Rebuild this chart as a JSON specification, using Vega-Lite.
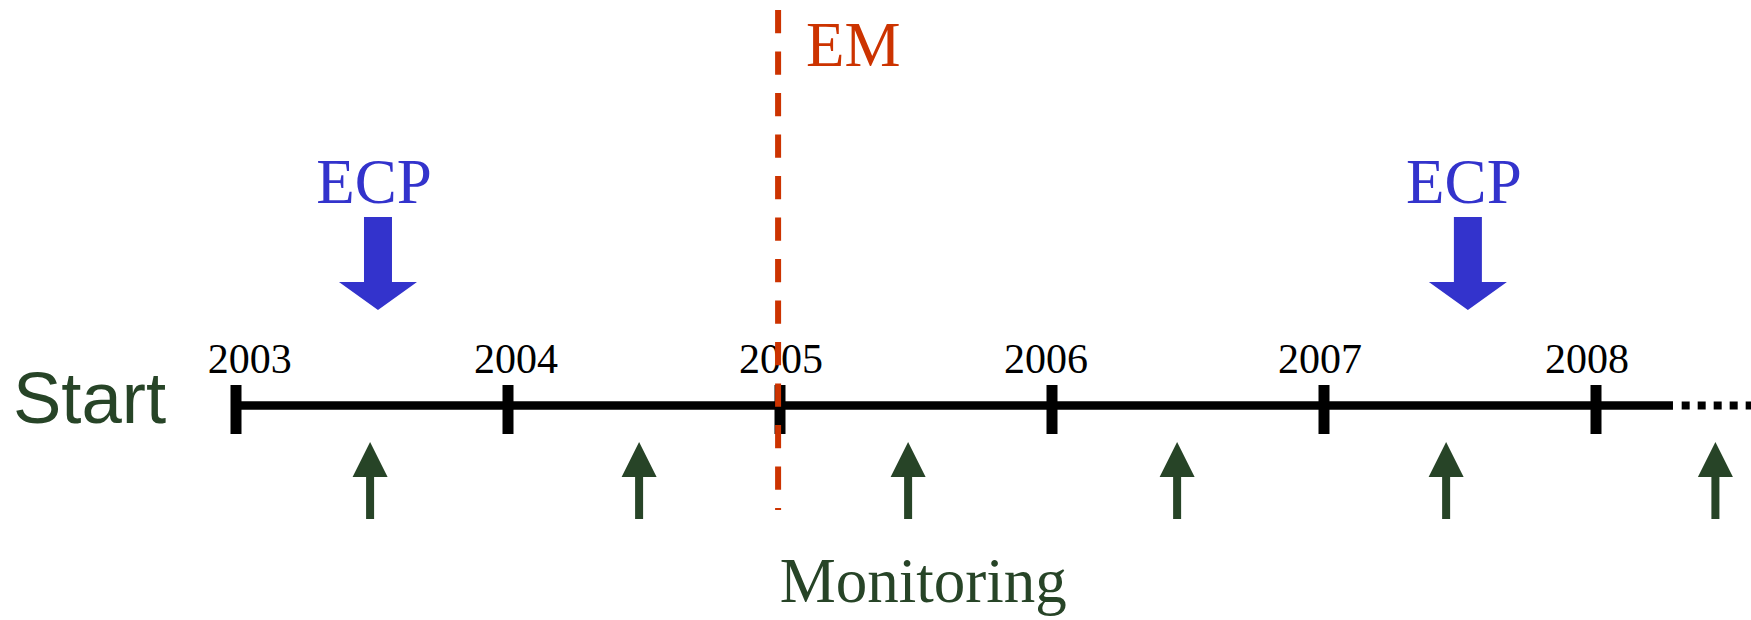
{
  "$schema": "https://vega.github.io/schema/vega-lite/v6.json",
  "width": 1751,
  "height": 620,
  "padding": 0,
  "autosize": {"type": "none"},
  "background": "white",
  "config": {"view": {"stroke": null}},
  "datasets": {
    "years": [
      {"year": 2003, "labelYear": 2003.051},
      {"year": 2004, "labelYear": 2004.029},
      {"year": 2005, "labelYear": 2005.004},
      {"year": 2006, "labelYear": 2005.978},
      {"year": 2007, "labelYear": 2006.985},
      {"year": 2008, "labelYear": 2007.967}
    ],
    "timeline": [
      {"start": 2003, "end": 2008.283, "style": "solid"},
      {"start": 2008.315, "end": 2008.57, "style": "dotted"}
    ],
    "monitoring": [
      {"year": 2003.493},
      {"year": 2004.482},
      {"year": 2005.471},
      {"year": 2006.46},
      {"year": 2007.449},
      {"year": 2008.439}
    ],
    "ecp": [
      {"year": 2003.522, "label": "ECP"},
      {"year": 2007.529, "label": "ECP"}
    ],
    "em": [{"year": 2004.993, "label": "EM"}],
    "labels": [
      {"text": "Start", "year": 2002.18},
      {"text": "Monitoring", "year": 2005.527}
    ]
  },
  "layer": [
    {
      "data": {"name": "timeline"},
      "transform": [{"filter": "datum.style === 'solid'"}],
      "mark": {"type": "rule", "color": "#000000", "strokeWidth": 8.5, "strokeCap": "butt"},
      "encoding": {
        "x": {"field": "start", "type": "quantitative", "scale": {"domain": [2002.13235, 2008.56985], "nice": false, "zero": false}, "axis": null},
        "x2": {"field": "end"},
        "y": {"datum": 405.5, "type": "quantitative", "scale": {"domain": [0, 620], "reverse": true, "nice": false, "zero": false}, "axis": null}
      }
    },
    {
      "data": {"name": "timeline"},
      "transform": [{"filter": "datum.style === 'dotted'"}],
      "mark": {"type": "rule", "color": "#000000", "strokeWidth": 8, "strokeCap": "butt", "strokeDash": [8, 8]},
      "encoding": {
        "x": {"field": "start", "type": "quantitative", "scale": {"domain": [2002.13235, 2008.56985], "nice": false, "zero": false}, "axis": null},
        "x2": {"field": "end"},
        "y": {"datum": 405.5, "type": "quantitative", "scale": {"domain": [0, 620], "reverse": true, "nice": false, "zero": false}, "axis": null}
      }
    },
    {
      "data": {"name": "years"},
      "mark": {"type": "rule", "color": "#000000", "strokeWidth": 11, "strokeCap": "butt"},
      "encoding": {
        "x": {"field": "year", "type": "quantitative", "scale": {"domain": [2002.13235, 2008.56985], "nice": false, "zero": false}, "axis": null},
        "y": {"datum": 385, "type": "quantitative", "scale": {"domain": [0, 620], "reverse": true, "nice": false, "zero": false}, "axis": null},
        "y2": {"datum": 434}
      }
    },
    {
      "data": {"name": "years"},
      "mark": {"type": "text", "font": "Liberation Serif", "fontSize": 42, "color": "#000000", "align": "center", "baseline": "alphabetic"},
      "encoding": {
        "x": {"field": "labelYear", "type": "quantitative", "scale": {"domain": [2002.13235, 2008.56985], "nice": false, "zero": false}, "axis": null},
        "y": {"datum": 373, "type": "quantitative", "scale": {"domain": [0, 620], "reverse": true, "nice": false, "zero": false}, "axis": null},
        "text": {"field": "year", "type": "nominal"}
      }
    },
    {
      "data": {"name": "em"},
      "mark": {"type": "rule", "color": "#cc3300", "strokeWidth": 6, "strokeCap": "butt", "strokeDash": [23.3, 18.2]},
      "encoding": {
        "x": {"field": "year", "type": "quantitative", "scale": {"domain": [2002.13235, 2008.56985], "nice": false, "zero": false}, "axis": null},
        "y": {"datum": 10, "type": "quantitative", "scale": {"domain": [0, 620], "reverse": true, "nice": false, "zero": false}, "axis": null},
        "y2": {"datum": 510}
      }
    },
    {
      "data": {"name": "em"},
      "mark": {"type": "text", "font": "Liberation Serif", "fontSize": 63, "color": "#cc3300", "align": "left", "baseline": "alphabetic", "dx": 28},
      "encoding": {
        "x": {"field": "year", "type": "quantitative", "scale": {"domain": [2002.13235, 2008.56985], "nice": false, "zero": false}, "axis": null},
        "y": {"datum": 66, "type": "quantitative", "scale": {"domain": [0, 620], "reverse": true, "nice": false, "zero": false}, "axis": null},
        "text": {"field": "label", "type": "nominal"}
      }
    },
    {
      "data": {"name": "monitoring"},
      "mark": {"type": "point", "shape": "M0,-1L0.4545,-0.091L0.1039,-0.091L0.1039,1L-0.1039,1L-0.1039,-0.091L-0.4545,-0.091Z", "filled": true, "size": 5929, "color": "#274427", "opacity": 1, "strokeWidth": 0},
      "encoding": {
        "x": {"field": "year", "type": "quantitative", "scale": {"domain": [2002.13235, 2008.56985], "nice": false, "zero": false}, "axis": null},
        "y": {"datum": 480.5, "type": "quantitative", "scale": {"domain": [0, 620], "reverse": true, "nice": false, "zero": false}, "axis": null}
      }
    },
    {
      "data": {"name": "ecp"},
      "mark": {"type": "point", "shape": "M-0.301,-1L0.301,-1L0.301,0.398L0.839,0.398L0,1L-0.839,0.398L-0.301,0.398Z", "filled": true, "size": 8649, "color": "#3333cc", "opacity": 1, "strokeWidth": 0},
      "encoding": {
        "x": {"field": "year", "type": "quantitative", "scale": {"domain": [2002.13235, 2008.56985], "nice": false, "zero": false}, "axis": null},
        "y": {"datum": 263.5, "type": "quantitative", "scale": {"domain": [0, 620], "reverse": true, "nice": false, "zero": false}, "axis": null}
      }
    },
    {
      "data": {"name": "ecp"},
      "mark": {"type": "text", "font": "Liberation Serif", "fontSize": 63, "color": "#3333cc", "align": "center", "baseline": "alphabetic", "dx": -4},
      "encoding": {
        "x": {"field": "year", "type": "quantitative", "scale": {"domain": [2002.13235, 2008.56985], "nice": false, "zero": false}, "axis": null},
        "y": {"datum": 203, "type": "quantitative", "scale": {"domain": [0, 620], "reverse": true, "nice": false, "zero": false}, "axis": null},
        "text": {"field": "label", "type": "nominal"}
      }
    },
    {
      "data": {"name": "labels"},
      "transform": [{"filter": "datum.text === 'Start'"}],
      "mark": {"type": "text", "font": "Liberation Sans", "fontSize": 72.5, "color": "#274427", "align": "left", "baseline": "alphabetic"},
      "encoding": {
        "x": {"field": "year", "type": "quantitative", "scale": {"domain": [2002.13235, 2008.56985], "nice": false, "zero": false}, "axis": null},
        "y": {"datum": 423, "type": "quantitative", "scale": {"domain": [0, 620], "reverse": true, "nice": false, "zero": false}, "axis": null},
        "text": {"field": "text", "type": "nominal"}
      }
    },
    {
      "data": {"name": "labels"},
      "transform": [{"filter": "datum.text === 'Monitoring'"}],
      "mark": {"type": "text", "font": "Liberation Serif", "fontSize": 63, "color": "#274427", "align": "center", "baseline": "alphabetic"},
      "encoding": {
        "x": {"field": "year", "type": "quantitative", "scale": {"domain": [2002.13235, 2008.56985], "nice": false, "zero": false}, "axis": null},
        "y": {"datum": 602, "type": "quantitative", "scale": {"domain": [0, 620], "reverse": true, "nice": false, "zero": false}, "axis": null},
        "text": {"field": "text", "type": "nominal"}
      }
    }
  ]
}
